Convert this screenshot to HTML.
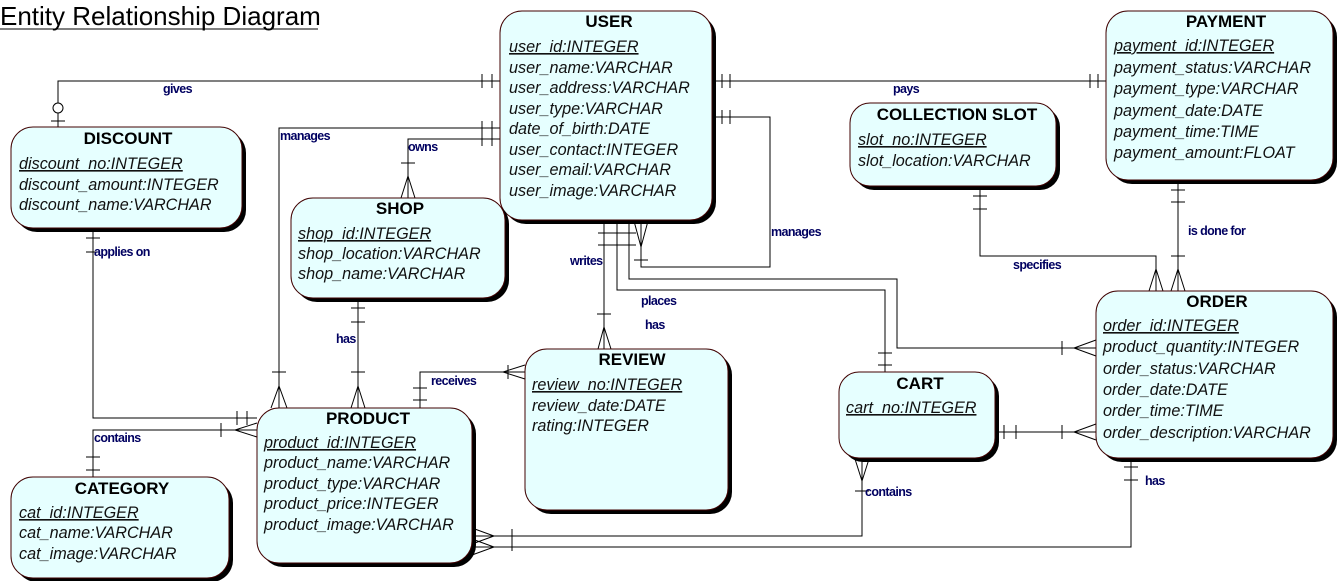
<!DOCTYPE html>
<html><head><meta charset="utf-8"><style>
body{margin:0;background:#fff}
svg{display:block}
.t{font-family:"Liberation Sans",sans-serif;font-weight:bold;font-size:17px;text-anchor:middle}
.a{font-family:"Liberation Sans",sans-serif;font-style:italic;font-size:16.2px;fill:#111}
.l{font-family:"Liberation Sans",sans-serif;font-weight:bold;font-size:12.5px;fill:#000060;letter-spacing:-0.6px}
.b{fill:#e6ffff;stroke:#400000;stroke-width:1}
.s{fill:#000}
line,polyline,path.c{stroke:#000;stroke-width:1;fill:none}
</style></head><body>
<svg width="1338" height="581" viewBox="0 0 1338 581" xmlns="http://www.w3.org/2000/svg">
<text x="0" y="25" font-family="Liberation Sans,sans-serif" font-size="26" fill="#000">Entity Relationship Diagram</text>
<line x1="0" y1="29" x2="318" y2="29"/>

<polyline points="58,127 58,81 500,81"/>
<circle cx="58" cy="108" r="5" fill="#fff" stroke="#000"/>
<line x1="51" y1="121" x2="65" y2="121"/>
<line x1="482" y1="74" x2="482" y2="88"/><line x1="492" y1="74" x2="492" y2="88"/>
<text class="l" x="163" y="93">gives</text>
<polyline points="500,128 279,128 279,408"/>
<line x1="482" y1="121" x2="482" y2="135"/><line x1="492" y1="121" x2="492" y2="135"/>
<line x1="272" y1="372" x2="286" y2="372"/>
<path class="c" d="M271,408 L279,386 L287,408"/>
<text class="l" x="280" y="140">manages</text>
<polyline points="500,139 408,139 408,198"/>
<line x1="482" y1="132" x2="482" y2="146"/><line x1="492" y1="132" x2="492" y2="146"/>
<line x1="401" y1="163" x2="415" y2="163"/>
<path class="c" d="M401,198 L408,176 L415,198"/>
<text class="l" x="408" y="151">owns</text>
<line x1="712" y1="81" x2="1106" y2="81"/>
<line x1="722" y1="74" x2="722" y2="88"/><line x1="730" y1="74" x2="730" y2="88"/>
<line x1="1090" y1="74" x2="1090" y2="88"/><line x1="1098" y1="74" x2="1098" y2="88"/>
<text class="l" x="893" y="93">pays</text>
<polyline points="712,117 770,117 770,267 641,267 641,220"/>
<line x1="722" y1="110" x2="722" y2="124"/><line x1="730" y1="110" x2="730" y2="124"/>
<line x1="634" y1="260" x2="648" y2="260"/>
<path class="c" d="M634,221 L641,247 L648,221"/>
<text class="l" x="771" y="236">manages</text>
<line x1="604" y1="220" x2="604" y2="349"/>
<line x1="597" y1="314" x2="611" y2="314"/>
<path class="c" d="M598,349 L604,327 L611,349"/>
<text class="l" x="570" y="265">writes</text>
<polyline points="617,220 617,290 885,290 885,372"/>
<line x1="878" y1="353" x2="892" y2="353"/><line x1="878" y1="365" x2="892" y2="365"/>
<polyline points="629,220 629,279 897,279 897,348 1096,348"/>
<line x1="1062" y1="341" x2="1062" y2="355"/>
<path class="c" d="M1096,340 L1074,348 L1096,356"/>
<text class="l" x="641" y="305">places</text>
<text class="l" x="645" y="329">has</text>
<line x1="598" y1="233" x2="636" y2="233"/><line x1="598" y1="245" x2="636" y2="245"/>
<polyline points="980,186 980,256 1156,256 1156,291"/>
<line x1="973" y1="196" x2="987" y2="196"/><line x1="973" y1="209" x2="987" y2="209"/>
<path class="c" d="M1149,291 L1156,269 L1163,291"/>
<text class="l" x="1013" y="269">specifies</text>
<line x1="1178" y1="180" x2="1178" y2="291"/>
<line x1="1171" y1="190" x2="1185" y2="190"/><line x1="1171" y1="202" x2="1185" y2="202"/>
<line x1="1171" y1="256" x2="1185" y2="256"/>
<path class="c" d="M1171,291 L1178,269 L1185,291"/>
<text class="l" x="1188" y="235">is done for</text>
<polyline points="93,228 93,418 257,418"/>
<line x1="86" y1="238" x2="100" y2="238"/><line x1="86" y1="252" x2="100" y2="252"/>
<line x1="237" y1="411" x2="237" y2="425"/><line x1="247" y1="411" x2="247" y2="425"/>
<text class="l" x="94" y="256">applies on</text>
<polyline points="93,477 93,430 257,430"/>
<line x1="86" y1="457" x2="100" y2="457"/><line x1="86" y1="470" x2="100" y2="470"/>
<line x1="221" y1="423" x2="221" y2="437"/>
<path class="c" d="M257,423 L235,430 L257,437"/>
<text class="l" x="94" y="442">contains</text>
<line x1="358" y1="298" x2="358" y2="408"/>
<line x1="351" y1="308" x2="365" y2="308"/><line x1="351" y1="322" x2="365" y2="322"/>
<line x1="351" y1="372" x2="365" y2="372"/>
<path class="c" d="M351,408 L358,386 L365,408"/>
<text class="l" x="336" y="343">has</text>
<polyline points="420,408 420,372 525,372"/>
<line x1="413" y1="388" x2="427" y2="388"/><line x1="413" y1="400" x2="427" y2="400"/>
<line x1="508" y1="365" x2="508" y2="379"/>
<path class="c" d="M525,365 L503,372 L525,379"/>
<text class="l" x="431" y="385">receives</text>
<polyline points="862,458 862,536 472,536"/>
<path class="c" d="M855,459 L862,481 L869,459"/>
<line x1="855" y1="491" x2="869" y2="491"/>
<line x1="512" y1="529" x2="512" y2="551"/>
<path class="c" d="M472,528 L494,536 L472,544"/>
<text class="l" x="865" y="496">contains</text>
<polyline points="1131,458 1131,547 472,547"/>
<line x1="1124" y1="467" x2="1138" y2="467"/><line x1="1124" y1="480" x2="1138" y2="480"/>
<path class="c" d="M472,539 L494,547 L472,555"/>
<text class="l" x="1145" y="485">has</text>
<line x1="995" y1="432" x2="1096" y2="432"/>
<line x1="1004" y1="425" x2="1004" y2="439"/><line x1="1016" y1="425" x2="1016" y2="439"/>
<line x1="1062" y1="425" x2="1062" y2="439"/>
<path class="c" d="M1096,424 L1074,432 L1096,440"/>

<g>
<rect class="s" x="504" y="15" width="212" height="209" rx="22"/>
<rect class="b" x="500" y="11" width="212" height="209" rx="22"/>
<text class="t" x="609" y="27">USER</text>
<text class="a" x="509" y="52" text-decoration="underline">user_id:INTEGER</text>
<text class="a" x="509" y="73">user_name:VARCHAR</text>
<text class="a" x="509" y="93">user_address:VARCHAR</text>
<text class="a" x="509" y="114">user_type:VARCHAR</text>
<text class="a" x="509" y="134">date_of_birth:DATE</text>
<text class="a" x="509" y="155">user_contact:INTEGER</text>
<text class="a" x="509" y="175">user_email:VARCHAR</text>
<text class="a" x="509" y="196">user_image:VARCHAR</text>
</g>
<g>
<rect class="s" x="1110" y="15" width="227" height="169" rx="22"/>
<rect class="b" x="1106" y="11" width="227" height="169" rx="22"/>
<text class="t" x="1226" y="27">PAYMENT</text>
<text class="a" x="1114" y="51" text-decoration="underline">payment_id:INTEGER</text>
<text class="a" x="1114" y="73">payment_status:VARCHAR</text>
<text class="a" x="1114" y="94">payment_type:VARCHAR</text>
<text class="a" x="1114" y="116">payment_date:DATE</text>
<text class="a" x="1114" y="137">payment_time:TIME</text>
<text class="a" x="1114" y="158">payment_amount:FLOAT</text>
</g>
<g>
<rect class="s" x="854" y="107" width="206" height="83" rx="20"/>
<rect class="b" x="850" y="103" width="206" height="83" rx="20"/>
<text class="t" x="957" y="120">COLLECTION SLOT</text>
<text class="a" x="858" y="145" text-decoration="underline">slot_no:INTEGER</text>
<text class="a" x="858" y="166">slot_location:VARCHAR</text>
</g>
<g>
<rect class="s" x="15" y="131" width="231" height="101" rx="22"/>
<rect class="b" x="11" y="127" width="231" height="101" rx="22"/>
<text class="t" x="128" y="144">DISCOUNT</text>
<text class="a" x="19" y="169" text-decoration="underline">discount_no:INTEGER</text>
<text class="a" x="19" y="190">discount_amount:INTEGER</text>
<text class="a" x="19" y="210">discount_name:VARCHAR</text>
</g>
<g>
<rect class="s" x="295" y="202" width="214" height="100" rx="22"/>
<rect class="b" x="291" y="198" width="214" height="100" rx="22"/>
<text class="t" x="400" y="214">SHOP</text>
<text class="a" x="298" y="239" text-decoration="underline">shop_id:INTEGER</text>
<text class="a" x="298" y="259">shop_location:VARCHAR</text>
<text class="a" x="298" y="279">shop_name:VARCHAR</text>
</g>
<g>
<rect class="s" x="529" y="353" width="203" height="161" rx="22"/>
<rect class="b" x="525" y="349" width="203" height="161" rx="22"/>
<text class="t" x="632" y="365">REVIEW</text>
<text class="a" x="532" y="390" text-decoration="underline">review_no:INTEGER</text>
<text class="a" x="532" y="411">review_date:DATE</text>
<text class="a" x="532" y="431">rating:INTEGER</text>
</g>
<g>
<rect class="s" x="261" y="412" width="215" height="155" rx="22"/>
<rect class="b" x="257" y="408" width="215" height="155" rx="22"/>
<text class="t" x="368" y="424">PRODUCT</text>
<text class="a" x="264" y="448" text-decoration="underline">product_id:INTEGER</text>
<text class="a" x="264" y="468">product_name:VARCHAR</text>
<text class="a" x="264" y="489">product_type:VARCHAR</text>
<text class="a" x="264" y="509">product_price:INTEGER</text>
<text class="a" x="264" y="530">product_image:VARCHAR</text>
</g>
<g>
<rect class="s" x="15" y="481" width="218" height="101" rx="22"/>
<rect class="b" x="11" y="477" width="218" height="101" rx="22"/>
<text class="t" x="122" y="494">CATEGORY</text>
<text class="a" x="19" y="518" text-decoration="underline">cat_id:INTEGER</text>
<text class="a" x="19" y="538">cat_name:VARCHAR</text>
<text class="a" x="19" y="559">cat_image:VARCHAR</text>
</g>
<g>
<rect class="s" x="843" y="376" width="156" height="86" rx="20"/>
<rect class="b" x="839" y="372" width="156" height="86" rx="20"/>
<text class="t" x="920" y="389">CART</text>
<text class="a" x="846" y="413" text-decoration="underline">cart_no:INTEGER</text>
</g>
<g>
<rect class="s" x="1100" y="295" width="237" height="167" rx="22"/>
<rect class="b" x="1096" y="291" width="237" height="167" rx="22"/>
<text class="t" x="1217" y="307">ORDER</text>
<text class="a" x="1103" y="331" text-decoration="underline">order_id:INTEGER</text>
<text class="a" x="1103" y="352">product_quantity:INTEGER</text>
<text class="a" x="1103" y="374">order_status:VARCHAR</text>
<text class="a" x="1103" y="395">order_date:DATE</text>
<text class="a" x="1103" y="416">order_time:TIME</text>
<text class="a" x="1103" y="438">order_description:VARCHAR</text>
</g>
</svg>
</body></html>
